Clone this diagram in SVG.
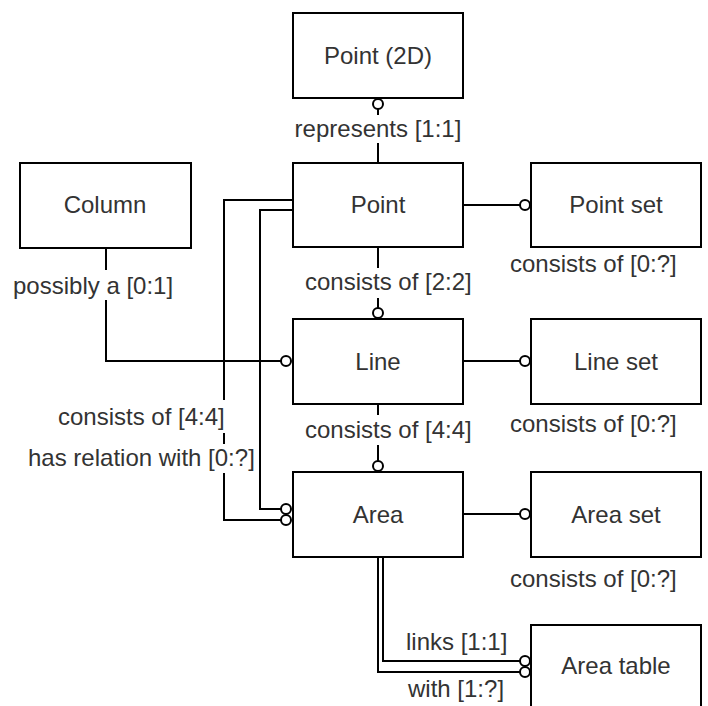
<svg xmlns="http://www.w3.org/2000/svg" width="708" height="706" viewBox="0 0 708 706">
<style>
.box{fill:#fff;stroke:#000;stroke-width:2}
.t{font-family:"Liberation Sans",Arial,sans-serif;font-size:24px;fill:#333}
.m{text-anchor:middle}
.ln{fill:none;stroke:#000;stroke-width:2}
.c{fill:#fff;stroke:#000;stroke-width:2}
.bg{fill:#fff}
</style>
<rect width="708" height="706" fill="#fff"/>
<g id="connectors">
  <g id="c-point2d-point">
    <path class="ln" d="M378 109V163"/>
    <circle class="c" cx="378" cy="104" r="5"/>
    <rect class="bg" x="293" y="115" width="171" height="28"/>
    <text class="t m" x="378" y="137">represents [1:1]</text>
  </g>
  <g id="c-point-pointset">
    <path class="ln" d="M463 205H520"/>
    <circle class="c" cx="525" cy="205" r="5"/>
    <text class="t" x="510" y="272">consists of [0:?]</text>
  </g>
  <g id="c-point-line">
    <path class="ln" d="M378 247V308"/>
    <circle class="c" cx="378" cy="313" r="5"/>
    <rect class="bg" x="303" y="268" width="171" height="30"/>
    <text class="t" x="305" y="290">consists of [2:2]</text>
  </g>
  <g id="c-column-line">
    <path class="ln" d="M106 248V361H281"/>
    <circle class="c" cx="286" cy="361" r="5"/>
    <rect class="bg" x="11" y="270" width="164" height="30"/>
    <text class="t" x="13" y="294">possibly a [0:1]</text>
  </g>
  <g id="c-line-lineset">
    <path class="ln" d="M463 361H520"/>
    <circle class="c" cx="525" cy="361" r="5"/>
    <text class="t" x="510" y="432">consists of [0:?]</text>
  </g>
  <g id="c-line-area">
    <path class="ln" d="M378 404V461"/>
    <circle class="c" cx="378" cy="466" r="5"/>
    <rect class="bg" x="303" y="415" width="171" height="30"/>
    <text class="t" x="305" y="438">consists of [4:4]</text>
  </g>
  <g id="c-point-area">
    <path class="ln" d="M293 210H260V509H281"/>
    <path class="ln" d="M293 200H224V520H281"/>
    <circle class="c" cx="286" cy="509" r="5"/>
    <circle class="c" cx="286" cy="520" r="5"/>
    <rect class="bg" x="56" y="400" width="171" height="33"/>
    <text class="t" x="58" y="425">consists of [4:4]</text>
    <rect class="bg" x="26" y="444" width="229" height="29"/>
    <text class="t" x="28" y="466">has relation with [0:?]</text>
  </g>
  <g id="c-area-areaset">
    <path class="ln" d="M463 514H520"/>
    <circle class="c" cx="525" cy="514" r="5"/>
    <text class="t" x="510" y="587">consists of [0:?]</text>
  </g>
  <g id="c-area-areatable">
    <path class="ln" d="M383 557V661H520"/>
    <path class="ln" d="M378 557V672H520"/>
    <circle class="c" cx="525" cy="661" r="5"/>
    <circle class="c" cx="525" cy="672" r="5"/>
    <text class="t" x="406" y="650">links [1:1]</text>
    <text class="t" x="408" y="697">with [1:?]</text>
  </g>
</g>
<g id="n-point2d"><rect class="box" x="293" y="13" width="170" height="85"/><text class="t m" x="378" y="64">Point (2D)</text></g>
<g id="n-column"><rect class="box" x="20" y="163" width="171" height="85"/><text class="t m" x="105" y="213">Column</text></g>
<g id="n-point"><rect class="box" x="293" y="163" width="170" height="84"/><text class="t m" x="378" y="213">Point</text></g>
<g id="n-pointset"><rect class="box" x="531" y="163" width="170" height="84"/><text class="t m" x="616" y="213">Point set</text></g>
<g id="n-line"><rect class="box" x="293" y="319" width="170" height="85"/><text class="t m" x="378" y="370">Line</text></g>
<g id="n-lineset"><rect class="box" x="531" y="319" width="170" height="85"/><text class="t m" x="616" y="370">Line set</text></g>
<g id="n-area"><rect class="box" x="293" y="472" width="170" height="85"/><text class="t m" x="378" y="523">Area</text></g>
<g id="n-areaset"><rect class="box" x="531" y="472" width="170" height="85"/><text class="t m" x="616" y="523">Area set</text></g>
<g id="n-areatable"><rect class="box" x="531" y="625" width="170" height="85"/><text class="t m" x="616" y="674">Area table</text></g>
</svg>
